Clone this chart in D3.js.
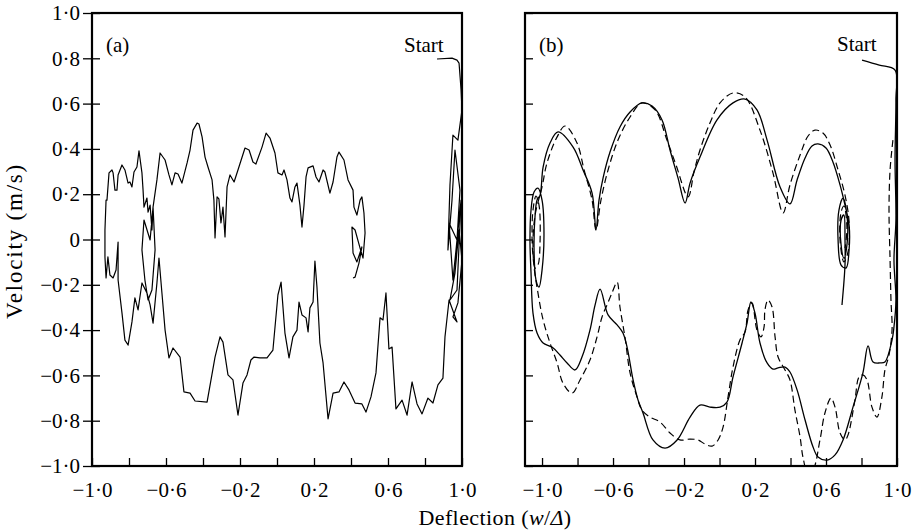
<!DOCTYPE html>
<html>
<head>
<meta charset="utf-8">
<script src="https://cdn.jsdelivr.net/npm/d3@7"></script>
<style>
  body { margin: 0; background: #fff; }
  svg text { font-family: "Liberation Serif", "DejaVu Serif", serif; fill: #000; }
</style>
</head>
<body>
<div class="chart"></div>
<script>
// tick values (shared)
var yTicks = [-1.0, -0.8, -0.6, -0.4, -0.2, 0, 0.2, 0.4, 0.6, 0.8, 1.0];
var xTicks = [-1.0, -0.8, -0.6, -0.4, -0.2, 0, 0.2, 0.4, 0.6, 0.8, 1.0];
var xLabelTicks = [-1.0, -0.6, -0.2, 0.2, 0.6, 1.0];

// (a) measured phase trajectory [deflection, velocity]
var traceA = [
  [0.865,0.797],[0.946,0.801],[0.973,0.792],[0.984,0.779],[0.995,0.660],[1.0,0.572],
  [0.978,0.439],[0.951,0.461],[0.935,0.241],[0.924,-0.046],[0.946,0.174],[0.962,0.395],
  [0.989,0.218],[0.973,-0.002],[0.930,0.073],[0.951,-0.179],[0.995,0.174],[0.973,-0.223],
  [0.935,-0.267],[0.962,-0.148],[0.984,0.042],[1.0,-0.091],[0.978,-0.280],[0.951,-0.342],
  [0.973,-0.364],[0.930,-0.267],[0.908,-0.430],
  [0.897,-0.612],[0.870,-0.642],[0.843,-0.722],[0.816,-0.700],[0.784,-0.770],[0.757,-0.726],
  [0.730,-0.629],[0.703,-0.775],[0.676,-0.709],[0.643,-0.748],[0.622,-0.475],[0.605,-0.483],
  [0.589,-0.236],[0.573,-0.355],[0.557,-0.346],[0.535,-0.589],[0.508,-0.695],[0.481,-0.762],
  [0.459,-0.726],[0.422,-0.722],[0.389,-0.664],[0.362,-0.629],[0.335,-0.673],[0.303,-0.678],
  [0.276,-0.792],[0.249,-0.545],[0.232,-0.457],[0.216,-0.210],[0.205,-0.095],[0.195,-0.276],
  [0.178,-0.302],[0.168,-0.408],[0.157,-0.346],[0.135,-0.333],[0.119,-0.276],[0.108,-0.400],
  [0.086,-0.430],[0.065,-0.523],[0.043,-0.413],[0.022,-0.188],[0.005,-0.245],[-0.022,-0.488],
  [-0.054,-0.523],[-0.092,-0.523],[-0.124,-0.519],[-0.141,-0.532],[-0.162,-0.598],[-0.184,-0.634],
  [-0.211,-0.775],[-0.238,-0.620],[-0.265,-0.598],[-0.292,-0.453],[-0.308,-0.430],[-0.335,-0.519],
  [-0.378,-0.718],[-0.443,-0.713],[-0.470,-0.678],[-0.503,-0.673],[-0.524,-0.519],[-0.562,-0.479],
  [-0.584,-0.523],[-0.605,-0.400],[-0.622,-0.236],[-0.638,-0.082],[-0.649,-0.192],[-0.670,-0.369],
  [-0.686,-0.289],[-0.703,-0.236],[-0.730,-0.192],[-0.751,-0.311],[-0.768,-0.258],[-0.784,-0.364],
  [-0.805,-0.466],[-0.822,-0.444],[-0.838,-0.324],[-0.859,-0.179],[-0.859,-0.011],[-0.870,-0.135],
  [-0.886,-0.170],[-0.903,-0.157],[-0.914,-0.077],[-0.924,-0.170],[-0.930,-0.077],[-0.930,0.042],
  [-0.924,0.174],[-0.919,0.174],[-0.908,0.294],[-0.892,0.307],[-0.886,0.294],[-0.876,0.218],
  [-0.865,0.218],[-0.859,0.285],[-0.838,0.329],[-0.822,0.307],[-0.805,0.249],[-0.795,0.254],
  [-0.784,0.232],[-0.773,0.298],[-0.757,0.320],[-0.746,0.391],[-0.730,0.294],[-0.724,0.218],
  [-0.719,0.143],[-0.703,0.183],[-0.697,0.121],[-0.686,0.152],[-0.676,0.042],[-0.670,0.143],
  [-0.659,-0.046],[-0.676,-0.223],[-0.697,-0.267],[-0.714,-0.179],[-0.730,-0.046],[-0.719,0.086],
  [-0.686,-0.002],[-0.670,0.143],[-0.649,0.263],[-0.632,0.382],[-0.605,0.351],[-0.584,0.285],
  [-0.568,0.241],[-0.551,0.294],[-0.535,0.289],[-0.514,0.249],[-0.486,0.338],[-0.470,0.395],
  [-0.454,0.483],[-0.432,0.514],[-0.422,0.510],[-0.405,0.453],[-0.389,0.364],[-0.373,0.320],
  [-0.351,0.263],[-0.341,0.174],[-0.335,0.007],[-0.324,0.188],[-0.314,0.179],[-0.303,0.073],
  [-0.292,0.143],[-0.281,0.011],[-0.270,0.232],[-0.254,0.285],[-0.232,0.254],[-0.211,0.307],
  [-0.173,0.404],[-0.151,0.395],[-0.130,0.342],[-0.114,0.333],[-0.081,0.408],[-0.059,0.470],
  [-0.038,0.448],[-0.011,0.382],[0.005,0.294],[0.027,0.285],[0.038,0.307],[0.054,0.263],
  [0.070,0.183],[0.081,0.166],[0.097,0.232],[0.108,0.249],[0.124,0.152],[0.135,0.055],
  [0.146,0.152],[0.157,0.276],[0.168,0.316],[0.195,0.325],[0.211,0.276],[0.227,0.254],
  [0.249,0.307],[0.259,0.298],[0.286,0.205],[0.303,0.254],[0.324,0.364],[0.335,0.386],
  [0.362,0.351],[0.384,0.263],[0.411,0.218],[0.416,0.143],[0.432,0.108],[0.449,0.174],
  [0.459,0.188],[0.470,0.117],[0.476,0.029],[0.465,-0.082],[0.449,-0.038],[0.422,0.042],
  [0.405,0.055],[0.411,-0.060],[0.432,-0.099],[0.459,-0.033],[0.443,-0.104],[0.422,-0.166],
  [0.411,-0.170]
];

// (b) simulated trajectory, solid line
var solidB = [
  [0.803,0.792],[0.900,0.770],[0.989,0.748],[0.994,0.616],[0.989,0.351],[0.994,0.086],[0.983,-0.091],
  [0.994,-0.267],[0.983,-0.386],[0.972,-0.444],[0.932,-0.541],[0.904,-0.545],[0.865,-0.541],
  [0.837,-0.470],[0.808,-0.589],[0.752,-0.740],[0.696,-0.885],[0.651,-0.951],[0.606,-0.974],
  [0.555,-0.960],[0.527,-0.916],[0.482,-0.797],[0.437,-0.664],[0.397,-0.585],[0.369,-0.563],
  [0.330,-0.567],[0.301,-0.572],[0.268,-0.545],[0.228,-0.457],[0.200,-0.325],[0.177,-0.276],
  [0.155,-0.369],[0.127,-0.457],[0.076,-0.607],[0.042,-0.718],[0.003,-0.740],[-0.054,-0.740],
  [-0.110,-0.731],[-0.166,-0.784],[-0.239,-0.885],[-0.307,-0.921],[-0.375,-0.885],[-0.431,-0.766],
  [-0.459,-0.709],[-0.487,-0.620],[-0.521,-0.475],[-0.544,-0.413],[-0.577,-0.377],[-0.628,-0.333],
  [-0.673,-0.219],[-0.701,-0.289],[-0.730,-0.400],[-0.775,-0.519],[-0.814,-0.576],[-0.859,-0.545],
  [-0.899,-0.510],[-0.944,-0.475],[-0.994,-0.457],[-1.028,-0.413],[-1.051,-0.325],[-1.062,-0.148],
  [-1.068,-0.002],[-1.062,0.130],[-1.045,0.210],[-1.023,0.227],[-1.000,0.174],[-0.989,0.020],
  [-1.000,-0.135],[-1.017,-0.210],[-1.034,-0.179],[-1.045,-0.046],[-1.039,0.108],[-1.028,0.174],
  [-1.011,0.196],[-0.994,0.320],[-0.955,0.426],[-0.910,0.475],[-0.825,0.408],[-0.769,0.307],
  [-0.718,0.205],[-0.696,0.042],[-0.679,0.174],[-0.656,0.272],[-0.617,0.386],[-0.561,0.497],
  [-0.504,0.563],[-0.437,0.603],[-0.380,0.589],[-0.324,0.528],[-0.279,0.395],[-0.234,0.272],
  [-0.194,0.161],[-0.166,0.249],[-0.110,0.364],[-0.014,0.528],[0.076,0.603],[0.144,0.620],
  [0.211,0.572],[0.268,0.439],[0.341,0.232],[0.397,0.157],[0.437,0.263],[0.482,0.360],
  [0.521,0.413],[0.555,0.422],[0.600,0.404],[0.639,0.342],[0.679,0.241],[0.707,0.152],
  [0.730,0.064],[0.730,-0.046],[0.713,-0.126],[0.685,-0.113],[0.668,-0.002],[0.673,0.130],
  [0.696,0.183],[0.718,0.108],[0.718,-0.024],[0.701,-0.082],[0.685,-0.024],[0.685,0.086],
  [0.701,0.108],[0.707,-0.002],[0.707,-0.113],[0.690,-0.289]
];

// (b) second trajectory, dashed line
var dashedB = [
  [0.977,0.439],[0.961,0.307],[0.955,0.130],[0.961,-0.091],[0.966,-0.267],[0.972,-0.400],
  [0.955,-0.510],[0.932,-0.576],[0.915,-0.695],[0.887,-0.784],[0.859,-0.740],[0.831,-0.620],
  [0.808,-0.598],[0.786,-0.607],[0.763,-0.709],[0.724,-0.863],[0.707,-0.885],[0.679,-0.854],
  [0.651,-0.740],[0.628,-0.700],[0.594,-0.766],[0.566,-0.885],[0.527,-1.018],[0.499,-1.035],
  [0.470,-0.960],[0.454,-0.872],[0.425,-0.753],[0.397,-0.620],[0.369,-0.576],[0.330,-0.519],
  [0.313,-0.430],[0.296,-0.298],[0.273,-0.267],[0.256,-0.311],[0.251,-0.386],[0.234,-0.430],
  [0.211,-0.400],[0.183,-0.280],[0.161,-0.311],[0.144,-0.408],[0.115,-0.444],[0.076,-0.563],
  [0.048,-0.695],[0.020,-0.828],[-0.008,-0.885],[-0.042,-0.912],[-0.082,-0.903],[-0.121,-0.885],
  [-0.166,-0.881],[-0.223,-0.885],[-0.279,-0.854],[-0.335,-0.806],[-0.392,-0.784],[-0.437,-0.753],
  [-0.465,-0.695],[-0.504,-0.589],[-0.532,-0.435],[-0.561,-0.298],[-0.577,-0.188],[-0.606,-0.236],
  [-0.634,-0.289],[-0.662,-0.342],[-0.690,-0.430],[-0.730,-0.532],[-0.786,-0.620],[-0.831,-0.678],
  [-0.882,-0.634],[-0.915,-0.545],[-0.955,-0.457],[-0.994,-0.355],[-1.023,-0.236],[-1.045,-0.121],
  [-1.056,-0.002],[-1.051,0.130],[-1.034,0.192],[-1.017,0.152],[-1.011,-0.002],[-1.023,-0.113],
  [-1.039,-0.126],[-1.051,-0.024],[-1.039,0.108],[-1.000,0.232],[-0.972,0.338],[-0.915,0.453],
  [-0.870,0.501],[-0.803,0.426],[-0.763,0.307],[-0.718,0.174],[-0.696,0.042],[-0.668,0.174],
  [-0.628,0.307],[-0.572,0.439],[-0.504,0.541],[-0.437,0.603],[-0.363,0.572],[-0.296,0.439],
  [-0.245,0.329],[-0.177,0.188],[-0.144,0.298],[-0.110,0.395],[-0.054,0.514],[0.003,0.603],
  [0.076,0.647],[0.144,0.629],[0.228,0.483],[0.301,0.294],[0.358,0.117],[0.397,0.241],
  [0.454,0.373],[0.499,0.457],[0.538,0.483],[0.583,0.470],[0.623,0.417],[0.668,0.307],
  [0.707,0.196],[0.730,0.077],[0.724,-0.055],[0.701,-0.099],[0.679,-0.002],[0.685,0.121],
  [0.701,0.148],[0.718,0.051],[0.707,-0.038]
];

(function(){

var width = 914, height = 532;
var plotTop = 13, plotBottom = 466;

var svg = d3.select(".chart").append("svg")
    .attr("width", width)
    .attr("height", height);

var y = d3.scaleLinear().domain([-1, 1]).range([plotBottom, plotTop]);
var xA = d3.scaleLinear().domain([-1, 1]).range([92, 462]);
var xB = d3.scaleLinear().domain([-1.096, 1.0]).range([525, 897]);

function fmt(v){
    if (Math.abs(v) < 1e-9) return "0";
    return d3.format(".1f")(v).replace("-", "\u2212").replace(".", "\u00b7");
}

function drawPanel(x, id, withLabels){
    var g = svg.append("g").attr("class", "panel-" + id);
    var x0 = x.range()[0], x1 = x.range()[1];

    g.append("clipPath").attr("id", "clip-" + id)
      .append("rect")
        .attr("x", x0).attr("y", plotTop)
        .attr("width", x1 - x0).attr("height", plotBottom - plotTop);

    // x ticks, inside only
    g.append("g")
        .attr("transform", "translate(0," + plotBottom + ")")
        .call(d3.axisBottom(x).tickValues(xTicks).tickSize(-8).tickFormat(""));
    var xLab = g.append("g")
        .attr("transform", "translate(0," + plotBottom + ")")
        .call(d3.axisBottom(x).tickValues(xLabelTicks).tickSize(0).tickPadding(16).tickFormat(fmt));
    xLab.selectAll("text").style("font-size", "21px").style("font-family", "Liberation Serif");

    // y ticks
    g.append("g")
        .attr("transform", "translate(" + x0 + ",0)")
        .call(d3.axisLeft(y).tickValues(yTicks).tickSize(-8).tickFormat(""));
    if (withLabels) {
        var yLab = g.append("g")
            .attr("transform", "translate(" + x0 + ",0)")
            .call(d3.axisLeft(y).tickValues(yTicks).tickSize(9).tickPadding(3).tickFormat(fmt));
        yLab.selectAll("text").style("font-size", "21px").style("font-family", "Liberation Serif");
    }
    g.selectAll(".domain").remove();
    g.selectAll(".tick line").attr("stroke", "#000").attr("stroke-width", 1.3);

    // frame
    g.append("rect")
        .attr("x", x0).attr("y", plotTop)
        .attr("width", x1 - x0).attr("height", plotBottom - plotTop)
        .attr("fill", "none").attr("stroke", "#000").attr("stroke-width", 2.2);

    return g;
}

var gA = drawPanel(xA, "a", true);
var gB = drawPanel(xB, "b", false);

var lineA = d3.line()
    .x(function(d){ return xA(d[0]); })
    .y(function(d){ return y(d[1]); });

gA.append("path")
    .datum(traceA)
    .attr("clip-path", "url(#clip-a)")
    .attr("d", lineA)
    .attr("fill", "none").attr("stroke", "#000").attr("stroke-width", 1.2)
    .attr("stroke-linejoin", "round");

var lineB = d3.line()
    .curve(d3.curveCatmullRom.alpha(0.5))
    .x(function(d){ return xB(d[0]); })
    .y(function(d){ return y(d[1]); });

gB.append("path")
    .datum(dashedB)
    .attr("clip-path", "url(#clip-b)")
    .attr("d", lineB)
    .attr("fill", "none").attr("stroke", "#000").attr("stroke-width", 1.2)
    .attr("stroke-dasharray", "7,4");

gB.append("path")
    .datum(solidB)
    .attr("clip-path", "url(#clip-b)")
    .attr("d", lineB)
    .attr("fill", "none").attr("stroke", "#000").attr("stroke-width", 1.3);

// panel labels and annotations
function label(txt, px, py){
    return svg.append("text")
        .attr("x", px).attr("y", py)
        .style("font-size", "21px")
        .text(txt);
}
label("(a)", 106, 52);
label("Start", 404, 52);
label("(b)", 539, 52);
label("Start", 837, 51);

// axis titles
svg.append("text")
    .attr("transform", "translate(22,241) rotate(-90)")
    .attr("text-anchor", "middle")
    .style("font-size", "23px")
    .style("letter-spacing", "1.8px")
    .text("Velocity (m/s)");

var xt = svg.append("text")
    .attr("x", 495).attr("y", 525)
    .attr("text-anchor", "middle")
    .style("font-size", "22px")
    .style("letter-spacing", "0.4px");
xt.append("tspan").text("Deflection (");
xt.append("tspan").style("font-style", "italic").text("w");
xt.append("tspan").text("/");
xt.append("tspan").style("font-style", "italic").text("\u0394");
xt.append("tspan").text(")");

})();
</script>
</body>
</html>
